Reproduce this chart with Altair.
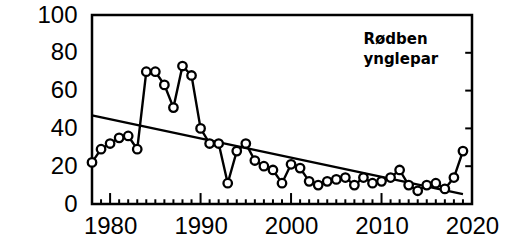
import altair as alt
import pandas as pd

years = list(range(1978, 2020))
pairs = [22, 29, 32, 35, 36, 29, 70, 70, 63, 51, 73, 68, 40, 32, 32, 11, 28, 32, 23, 20, 18,
         11, 21, 19, 12, 10, 12, 13, 14, 10, 14, 11, 12, 14, 18, 10, 7, 10, 11, 8, 14, 28]
x_labels = [1980, 1990, 2000, 2010, 2020]
y_labels = [0, 20, 40, 60, 80, 100]
major_ticks = [1980, 1990, 2000, 2010]
minor_ticks = [y for y in range(1979, 2020) if y not in major_ticks]
right_ticks = [20, 40, 60, 80]
label_lines = ["Rødben", "ynglepar"]

df = pd.DataFrame({"year": years, "pairs": pairs})
df_major = pd.DataFrame({"year": major_ticks})
df_minor = pd.DataFrame({"year": minor_ticks})
df_right = pd.DataFrame({"v": right_ticks})

FONT = "Liberation Sans"
xs = alt.Scale(domain=[1978, 2020], nice=False, zero=False)
ys = alt.Scale(domain=[0, 100], nice=False)

xaxis = alt.Axis(values=x_labels, format="d", labelFontSize=24, labelFont=FONT,
                 labelColor="black", ticks=False, domain=False, grid=False,
                 labelPadding=10, labelFlush=False, labelOverlap=False, title=None)
yaxis = alt.Axis(values=y_labels, format="d", labelFontSize=24, labelFont=FONT,
                 labelColor="black", ticks=False, domain=False, grid=False,
                 labelPadding=15, labelFlush=False, labelOverlap=False, title=None)

X = alt.X("year:Q", scale=xs, axis=xaxis)
Y = alt.Y("pairs:Q", scale=ys, axis=yaxis)

base = alt.Chart(df)

trend = base.transform_regression("year", "pairs").mark_line(
    color="black", strokeWidth=2.4).encode(x=X, y=Y)

line = base.mark_line(color="black", strokeWidth=2.4).encode(x=X, y=Y)

pts = base.mark_point(shape="circle", filled=True, fill="white", stroke="black",
                      strokeWidth=2.3, size=72, opacity=1).encode(x=X, y=Y)

major = alt.Chart(df_major).mark_rule(color="black", strokeWidth=2).encode(
    x=X, y=alt.Y(datum=0, scale=ys, axis=yaxis), y2=alt.Y2(datum=5.8))
minor = alt.Chart(df_minor).mark_rule(color="black", strokeWidth=2).encode(
    x=X, y=alt.Y(datum=0, scale=ys, axis=yaxis), y2=alt.Y2(datum=2.5))
right = alt.Chart(df_right).mark_rule(color="black", strokeWidth=2).encode(
    y=alt.Y("v:Q", scale=ys, axis=yaxis),
    x=alt.X(datum=2020, scale=xs, axis=xaxis), x2=alt.X2(datum=2019.25))

label = alt.Chart(pd.DataFrame({"a": [0]})).mark_text(
    text=label_lines, font="DejaVu Sans", fontWeight="bold", fontSize=15,
    align="left", baseline="alphabetic", lineHeight=20, color="black"
).encode(x=alt.X(datum=2008, scale=xs, axis=xaxis),
         y=alt.Y(datum=84.5, scale=ys, axis=yaxis))

chart = alt.layer(trend, line, major, minor, right, pts, label).properties(
    width=380, height=189,
    padding={"left": 92, "top": 15, "right": 33, "bottom": 42},
    autosize=alt.AutoSizeParams(type="none"),
    background="white",
).configure_view(stroke="black", strokeWidth=2.5)

chart.save("out.html", embed_options={"renderer": "svg", "actions": False})
